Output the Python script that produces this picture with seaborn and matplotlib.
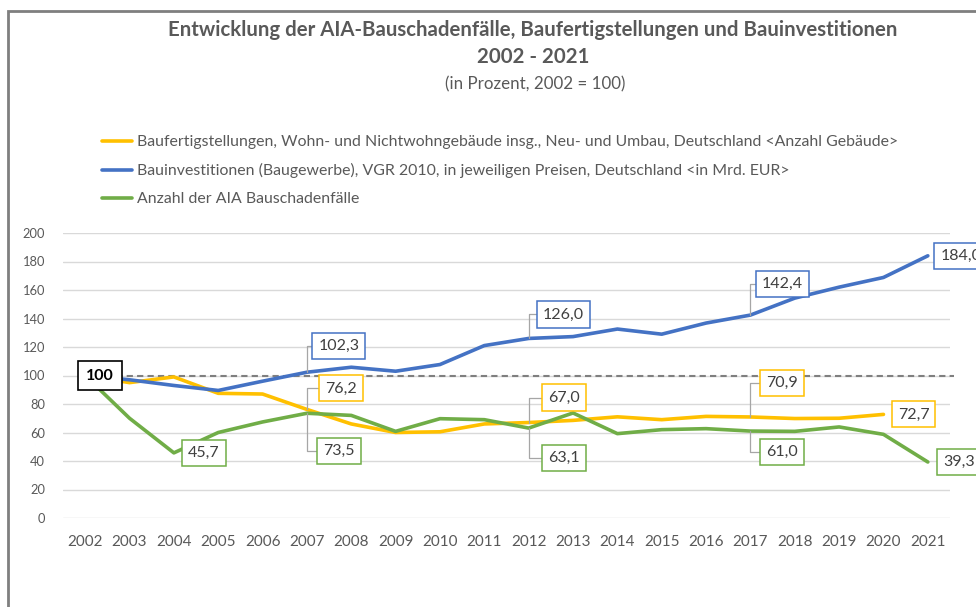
import numpy as np
import pandas as pd
import matplotlib
matplotlib.use("Agg")
import matplotlib.pyplot as plt
import seaborn as sns
from matplotlib.patches import Rectangle

years = list(range(2002, 2022))
fertig = [100, 95, 99, 87.5, 87, 76.2, 66, 60, 60.5, 66, 67.0, 68.5, 71, 69, 71.3, 70.9, 69.8, 70, 72.7, np.nan]
invest = [100, 97, 93, 89.5, 96, 102.3, 105.8, 103, 107.7, 121, 126.0, 127.3, 132.6, 129, 136.8, 142.4, 154.3, 162, 168.8, 184.0]
schaden = [100, 70, 45.7, 60, 67.4, 73.5, 72, 60.8, 69.7, 69, 63.1, 73.7, 59.2, 62, 62.7, 61.0, 60.8, 63.9, 58.7, 39.3]

names = [
    "Baufertigstellungen, Wohn- und Nichtwohngebäude insg., Neu- und Umbau, Deutschland <Anzahl Gebäude>",
    "Bauinvestitionen (Baugewerbe), VGR 2010, in jeweiligen Preisen, Deutschland <in Mrd. EUR>",
    "Anzahl der AIA Bauschadenfälle",
]
colors = ["#FFC000", "#4472C4", "#70AD47"]
yticks = list(range(0, 201, 20))

# labels: (series index, year index, text)
labels = [
    (1, 5, "102,3"), (0, 5, "76,2"), (2, 5, "73,5"), (2, 2, "45,7"),
    (1, 10, "126,0"), (0, 10, "67,0"), (2, 10, "63,1"),
    (1, 15, "142,4"), (0, 15, "70,9"), (2, 15, "61,0"),
    (1, 19, "184,0"), (0, 18, "72,7"), (2, 19, "39,3"),
]
offsets = {
    "102,3": (32, 26), "76,2": (34, 21), "73,5": (32, -38), "45,7": (30, 0),
    "126,0": (35, 24), "67,0": (35, 25), "63,1": (35, -30),
    "142,4": (32, 31), "70,9": (32, 34), "61,0": (32, -21),
    "184,0": (33, 0), "72,7": (30, 0), "39,3": (31, 0),
}

series = [fertig, invest, schaden]
rows = []
for n, vals in zip(names, series):
    for i, v in enumerate(vals):
        rows.append({"idx": i, "value": v, "series": n})
df = pd.DataFrame(rows).dropna()

sns.set_theme(style="white")
FONT = ["Lato", "DejaVu Sans"]
plt.rcParams["font.family"] = FONT
TXT = "#595959"

W, H = 976, 607
fig = plt.figure(figsize=(W / 100, H / 100), dpi=100)
ax = fig.add_axes([63 / W, (H - 518) / H, 887 / W, 285 / H])

sns.lineplot(data=df, x="idx", y="value", hue="series", hue_order=names,
             palette=colors, linewidth=2.6, ax=ax, legend=True, zorder=3)

ax.set_xlim(-0.5, 19.5)
ax.set_ylim(0, 200)
ax.set_yticks(yticks)
ax.set_yticklabels([str(t) for t in yticks])
ax.set_xticks(range(len(years)))
ax.set_xticklabels([str(y) for y in years])
ax.tick_params(axis="y", length=0, pad=13, labelsize=9.3, labelcolor=TXT)
ax.tick_params(axis="x", length=0, pad=12, labelsize=11, labelcolor=TXT)
ax.set_xlabel("")
ax.set_ylabel("")
ax.grid(axis="y", color="#d9d9d9", linewidth=1)
ax.set_axisbelow(True)
for s in ax.spines.values():
    s.set_visible(False)

# dashed reference line at 100
ax.plot([0, 19.6], [100, 100], linestyle=(0, (3, 2)), color="#7f7f7f",
        linewidth=1.5, zorder=2, clip_on=False)

# legend
handles, labs = ax.get_legend_handles_labels()
ax.get_legend().remove()
leg = fig.legend(handles, labs, loc="upper left",
                 bbox_to_anchor=(96 / W, 1 - 129 / H), frameon=False,
                 fontsize=11.4, handlelength=1.9, handletextpad=0.3,
                 labelspacing=0.88, borderaxespad=0)
for t in leg.get_texts():
    t.set_color(TXT)
for l in leg.get_lines():
    l.set_linewidth(2.6)

# "100" start label
ax.annotate("100", xy=(0, 100), xytext=(15, 0), textcoords="offset pixels",
            ha="center", va="center", fontsize=11.5, fontweight="bold", color="black",
            bbox=dict(boxstyle="square,pad=0.5", fc="white", ec="black", lw=1.2),
            zorder=6)

for si, xi, txt in labels:
    v = series[si][xi]
    dx, dy = offsets[txt]
    arrow = None
    if abs(dy) > 5:
        arrow = dict(arrowstyle="-", color="#a6a6a6", lw=0.9,
                     connectionstyle="angle,angleA=0,angleB=90,rad=0",
                     shrinkA=0, shrinkB=0)
    ax.annotate(txt, xy=(xi, v), xytext=(dx, dy), textcoords="offset pixels",
                ha="center", va="center", fontsize=11.5, color="#404040",
                bbox=dict(boxstyle="square,pad=0.38", fc="white", ec=colors[si], lw=1.1),
                arrowprops=arrow, zorder=6, annotation_clip=False)

# titles
fig.text(533 / W, 1 - 30 / H, "Entwicklung der AIA-Bauschadenfälle, Baufertigstellungen und Bauinvestitionen",
         ha="center", va="center", fontsize=14.7, fontweight="bold", color=TXT)
fig.text(533 / W, 1 - 57 / H, "2002 - 2021", ha="center", va="center",
         fontsize=14.7, fontweight="bold", color=TXT)
fig.text(535 / W, 1 - 84 / H, "(in Prozent, 2002 = 100)", ha="center", va="center",
         fontsize=12.2, color=TXT)

# chart frame
fig.patches.append(Rectangle((8 / W, -0.1), 1.2, 1.1 - 11 / H, transform=fig.transFigure,
                             fill=False, ec="#7f7f7f", lw=2, zorder=0))

fig.savefig("out.png", dpi=100)
